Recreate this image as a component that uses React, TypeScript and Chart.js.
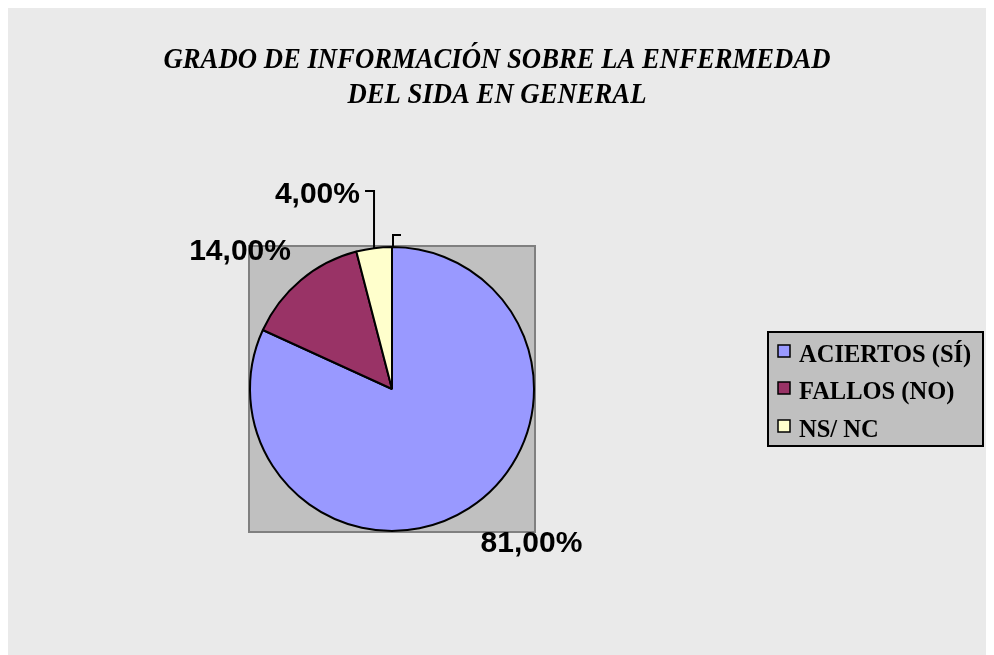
import React, { useEffect, useRef } from "react";
import { Chart, registerables } from "chart.js";

Chart.register(...registerables);

const titleLines = ["GRADO DE INFORMACIÓN SOBRE LA ENFERMEDAD", "DEL SIDA EN GENERAL"];
const categories = ["ACIERTOS (SÍ)", "FALLOS (NO)", "NS/ NC"];
const values = [81, 14, 4];
const valueLabels = ["81,00%", "14,00%", "4,00%"];
const colors = ["#9999ff", "#993366", "#ffffcc"];

const W = 986;
const H = 647;

const decorPlugin = {
  id: "decor",
  beforeDraw(chart: any) {
    const ctx = chart.ctx;
    ctx.save();
    ctx.fillStyle = "#eaeaea";
    ctx.fillRect(0, 0, W, H);
    const meta = chart.getDatasetMeta(0);
    const a = meta.data[0];
    if (a) {
      const r = a.outerRadius + 1;
      ctx.fillStyle = "#c0c0c0";
      ctx.fillRect(a.x - r, a.y - r, 2 * r, 2 * r);
      ctx.strokeStyle = "#808080";
      ctx.lineWidth = 2;
      ctx.strokeRect(a.x - r, a.y - r, 2 * r, 2 * r);
    }
    // title
    ctx.fillStyle = "#000";
    ctx.font = "italic bold 30px 'Liberation Serif'";
    ctx.textAlign = "center";
    ctx.textBaseline = "alphabetic";
    const w0 = ctx.measureText(titleLines[0]).width;
    const sx = 667 / w0;
    const baselines = [60, 95];
    titleLines.forEach((t, i) => {
      ctx.save();
      ctx.translate(489, baselines[i]);
      ctx.scale(sx, 1);
      ctx.fillText(t, 0, 0);
      ctx.restore();
    });
    ctx.restore();
  },
  afterDraw(chart: any) {
    const ctx = chart.ctx;
    const meta = chart.getDatasetMeta(0);
    ctx.save();
    // data labels
    ctx.fillStyle = "#000";
    ctx.font = "bold 30px 'Liberation Sans'";
    ctx.textAlign = "center";
    ctx.textBaseline = "alphabetic";
    const offs = [
      [0.982, 1.148],
      [-1.07, -0.908],
      [-0.525, -1.31],
    ];
    meta.data.forEach((arc: any, i: number) => {
      const R = arc.outerRadius;
      ctx.fillText(valueLabels[i], arc.x + offs[i][0] * R, arc.y + offs[i][1] * R);
    });
    // leader line for small slice
    const y = meta.data[2];
    if (y) {
      const mid = (y.startAngle + y.endAngle) / 2;
      const px = y.x + Math.cos(mid) * y.outerRadius;
      const py = y.y + Math.sin(mid) * y.outerRadius;
      const ly = y.y - 1.395 * y.outerRadius;
      ctx.strokeStyle = "#000";
      ctx.lineWidth = 2;
      ctx.beginPath();
      ctx.moveTo(px - 9, ly);
      ctx.lineTo(px, ly);
      ctx.lineTo(px, py);
      ctx.stroke();
      // small bracket at the top of the pie
      const tx = y.x + 1;
      const ty = y.y - y.outerRadius;
      ctx.beginPath();
      ctx.moveTo(tx, ty);
      ctx.lineTo(tx, ty - 12);
      ctx.lineTo(tx + 8, ty - 12);
      ctx.stroke();
    }
    // legend
    const bx = 760, by = 324, bw = 215, bh = 114;
    ctx.fillStyle = "#c0c0c0";
    ctx.fillRect(bx, by, bw, bh);
    ctx.strokeStyle = "#000";
    ctx.lineWidth = 2;
    ctx.strokeRect(bx, by, bw, bh);
    ctx.font = "bold 24.5px 'Liberation Serif'";
    ctx.textAlign = "left";
    const rowBase = [354, 391, 429];
    categories.forEach((c, i) => {
      ctx.fillStyle = colors[i];
      ctx.fillRect(770, rowBase[i] - 17, 12, 12);
      ctx.lineWidth = 1.5;
      ctx.strokeStyle = "#000";
      ctx.strokeRect(770, rowBase[i] - 17, 12, 12);
      ctx.fillStyle = "#000";
      ctx.fillText(c, 791, rowBase[i]);
    });
    ctx.restore();
  },
};

export default function App() {
  const ref = useRef<HTMLCanvasElement>(null);
  useEffect(() => {
    if (!ref.current) return;
    const chart = new Chart(ref.current, {
      type: "pie",
      data: {
        labels: categories,
        datasets: [
          {
            data: values,
            backgroundColor: colors,
            borderColor: "#000",
            borderWidth: 2,
          },
        ],
      },
      options: {
        responsive: false,
        animation: false,
        devicePixelRatio: 1,
        layout: { padding: { left: 241, top: 238, right: 459, bottom: 123 } },
        plugins: {
          legend: { display: false },
          title: { display: false },
          tooltip: { enabled: false },
        },
      },
      plugins: [decorPlugin],
    });
    return () => chart.destroy();
  }, []);
  return <canvas ref={ref} width={W} height={H} style={{ display: "block", width: W, height: H }} />;
}
